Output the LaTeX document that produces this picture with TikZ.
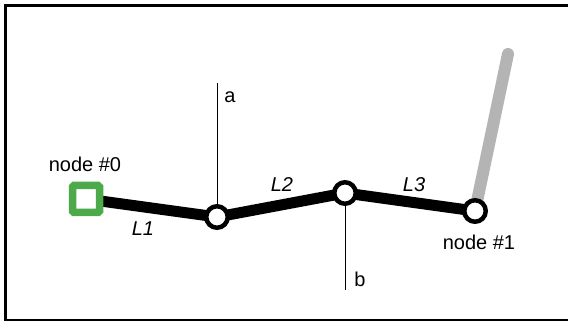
\documentclass[tikz,border=0pt]{standalone}
\usepackage{fontspec}
\setmainfont{Liberation Sans}
\usetikzlibrary{backgrounds}
\definecolor{basegreen}{RGB}{76,170,74}
\definecolor{swinggray}{RGB}{180,180,180}
\tikzset{
  joint/.style={circle, draw=black, fill=white, line width=4.5pt, minimum size=21.5pt, inner sep=0pt},
  basenode/.style={rectangle, draw=basegreen, fill=white, line width=7.5pt, minimum size=27pt, inner sep=0pt, rounded corners=1.5pt},
  link/.style={line width=11pt},
  txt/.style={font=\fontsize{20}{24}\selectfont, inner sep=0pt},
  linklabel/.style={txt, font=\fontsize{20}{24}\selectfont\itshape}
}
\begin{document}
\begin{tikzpicture}[x=1pt, y=-1pt]

        \useasboundingbox (0,0) rectangle (568,323);

        % Frame
        \draw[line width=2.5pt] (5.5,5.5) rectangle (580,320);

        % Joints
        \node[basenode] (n0) at (86,199) {};
        \node[joint] (j1) at (217,217) {};
        \node[joint] (j2) at (345,193) {};
        \node[joint] (n1) at (475,211) {};

        \coordinate (atop) at (217,83);
        \coordinate (bbot) at (345,290);
        \coordinate (gtop) at (508,54);

        % Links behind the joints
        \begin{pgfonlayer}{background}
            \draw[link, swinggray, line width=12pt, line cap=round] (n1.center) -- (gtop);
            \draw[link] (n0.center) -- (j1.center);
            \draw[link] (j1.center) -- (j2.center);
            \draw[link] (j2.center) -- (n1.center);
            \draw[line width=1pt] (j1) -- (atop);
            \draw[line width=1pt] (j2) -- (bbot);
        \end{pgfonlayer}

        % Labels
        \node[txt] (lbl0) at (85,164) {node \#0};
        \node[txt] (lbl1) at (479,242) {node \#1};
        \node[txt] (lbla) at (230,97) {a};
        \node[txt] (lblb) at (360,279) {b};
        \node[linklabel] (l1) at (143,229) {L1};
        \node[linklabel] (l2) at (282,185) {L2};
        \node[linklabel] (l3) at (414,185) {L3};

    \end{tikzpicture}
\end{document}
